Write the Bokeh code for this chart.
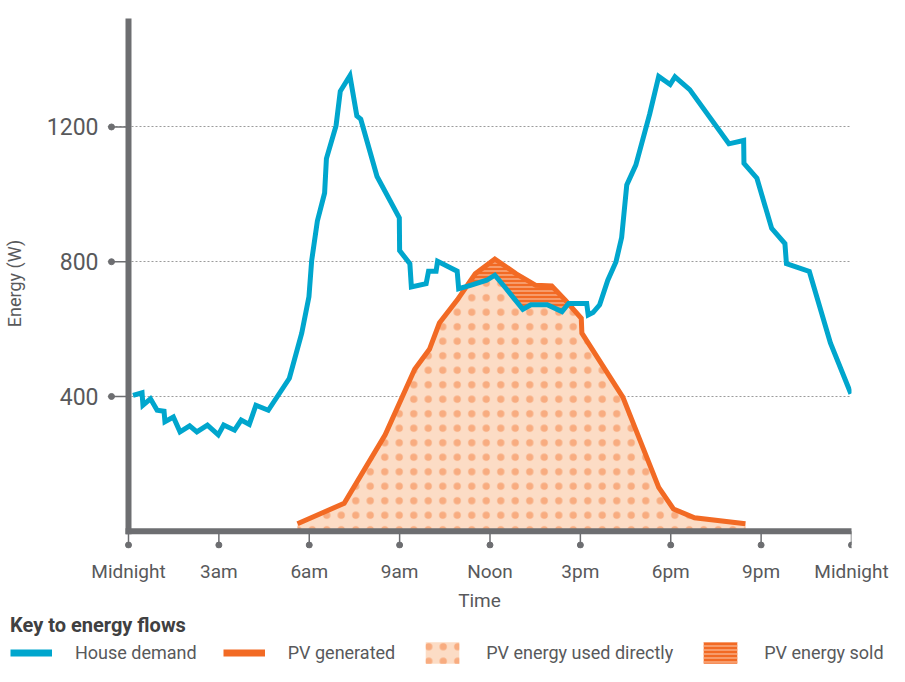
import numpy as np
from bokeh.plotting import figure
from bokeh.models import Range1d, FixedTicker, Legend, LegendItem
from bokeh.embed import file_html
from bokeh.resources import INLINE

# ---------------- data ----------------
demand_hours = [0.15, 0.45, 0.48, 0.73, 0.95, 1.18, 1.21, 1.49, 1.71, 2.03, 2.27, 2.62, 2.98,
                3.16, 3.52, 3.74, 4.01, 4.23, 4.64, 5.34, 5.75, 5.99, 6.08, 6.27, 6.51, 6.57,
                6.89, 7.03, 7.35, 7.58, 7.71, 8.25, 8.99, 9.00, 9.34, 9.39, 9.88, 9.96, 10.21,
                10.26, 10.91, 10.96, 11.35, 11.89, 12.16, 12.49, 13.09, 13.36, 13.90, 14.39,
                14.61, 15.21, 15.26, 15.42, 15.64, 15.91, 16.18, 16.37, 16.54, 16.84, 17.30,
                17.60, 17.98, 18.14, 18.63, 19.93, 20.42, 20.43, 20.86, 21.35, 21.79, 21.84,
                22.60, 23.30, 23.98]
demand_watts = [403, 411, 374, 393, 359, 356, 325, 339, 295, 313, 295, 315, 286,
                315, 300, 330, 317, 374, 359, 454, 588, 696, 803, 921, 1004, 1106,
                1204, 1306, 1352, 1233, 1223, 1053, 930, 833, 794, 725, 735, 772, 772,
                801, 772, 720, 730, 745, 760, 725, 659, 672, 672, 652,
                676, 676, 642, 649, 672, 745, 799, 872, 1028, 1087, 1238,
                1350, 1326, 1349, 1311, 1150, 1160, 1092, 1048, 899, 854, 794,
                771, 559, 408]

pv_hours = [5.61, 7.16, 8.52, 9.50, 9.99, 10.32, 10.91, 11.51, 12.16, 12.87, 13.52, 14.05,
            14.50, 15.03, 15.05, 16.41, 17.60, 18.09, 18.79, 20.48]
pv_watts = [22, 83, 286, 481, 540, 618, 686, 764, 808, 764, 730, 728,
            686, 632, 588, 398, 130, 66, 40, 22]

x_ticks = [0, 3, 6, 9, 12, 15, 18, 21, 24]
x_tick_labels = ["Midnight", "3am", "6am", "9am", "Noon", "3pm", "6pm", "9pm", "Midnight"]
y_ticks = [400, 800, 1200]
legend_labels = ["House demand", "PV generated", "PV energy used directly", "PV energy sold"]

# ---------------- style ----------------
FONT = "Roboto"
TEXT = "#58595b"
AXIS = "#6d6e71"
BLUE = "#00a6cd"
ORANGE = "#f26a24"
PEACH = "#fcdcc5"
DOT = "#f8ac80"
STRIPE = "#f9a77c"

W = 889
H_MAIN, H_KEY = 614, 52
BORDER_L, BORDER_R, BORDER_T, BORDER_B = 107, 38, 18, 59
X0, X1 = -0.697, 24.0
Y0, Y1 = -51.3, 1522
px_per_hour = (W - BORDER_L - BORDER_R) / (X1 - X0)
px_per_watt = (H_MAIN - BORDER_T - BORDER_B) / (Y1 - Y0)

p = figure(width=W, height=H_MAIN, x_range=Range1d(X0, X1), y_range=Range1d(Y0, Y1),
           output_backend="svg", toolbar_location=None, title=None,
           min_border_left=BORDER_L, min_border_right=BORDER_R,
           min_border_top=BORDER_T, min_border_bottom=BORDER_B)
p.outline_line_color = None
p.background_fill_color = "white"
p.border_fill_color = "white"

# ---------------- areas ----------------
dh = np.array(demand_hours, dtype=float)
dw = np.array(demand_watts, dtype=float)
ph = np.array(pv_hours, dtype=float)
pw = np.array(pv_watts, dtype=float)

grid_x = np.unique(np.concatenate([ph, dh[(dh >= ph[0]) & (dh <= ph[-1])]]))
pv_i = np.interp(grid_x, ph, pw)
d_i = np.interp(grid_x, dh, dw)
xs, pvs, ds = [grid_x[0]], [pv_i[0]], [d_i[0]]
for k in range(1, len(grid_x)):
    a0 = pv_i[k - 1] - d_i[k - 1]
    a1 = pv_i[k] - d_i[k]
    if a0 * a1 < 0:
        t = a0 / (a0 - a1)
        xc = grid_x[k - 1] + t * (grid_x[k] - grid_x[k - 1])
        yc = pv_i[k - 1] + t * (pv_i[k] - pv_i[k - 1])
        xs.append(xc); pvs.append(yc); ds.append(yc)
    xs.append(grid_x[k]); pvs.append(pv_i[k]); ds.append(d_i[k])
xs = np.array(xs); pvs = np.array(pvs); ds = np.array(ds)
lower = np.minimum(pvs, ds)

USED_STYLE = dict(fill_color=PEACH, hatch_pattern="dot", hatch_color=DOT,
                  hatch_scale=14.5, hatch_weight=1.6)
SOLD_STYLE = dict(fill_color=ORANGE, hatch_pattern="horizontal_line", hatch_color=STRIPE,
                  hatch_scale=4, hatch_weight=1.6)

p.varea(x=ph, y1=0, y2=pw, **USED_STYLE)
p.varea(x=xs, y1=lower, y2=pvs, **SOLD_STYLE)

# ---------------- axis decorations ----------------
p.segment(x0=[0, 0], y0=[0, 0], x1=[0, X1], y1=[Y1, 0], line_color=AXIS,
          line_width=6, line_cap="square")
stub_h = 17 / px_per_hour
p.segment(x0=[-stub_h] * len(y_ticks), y0=y_ticks, x1=[0] * len(y_ticks), y1=y_ticks,
          line_color=AXIS, line_width=1.5)
p.scatter(x=[-stub_h] * len(y_ticks), y=y_ticks, size=6, color=AXIS)
stub_v = 14 / px_per_watt
p.segment(x0=x_ticks, y0=[0] * len(x_ticks), x1=x_ticks, y1=[-stub_v] * len(x_ticks),
          line_color=AXIS, line_width=1.5)
p.scatter(x=x_ticks, y=[-stub_v] * len(x_ticks), size=6, color=AXIS)

# ---------------- lines ----------------
p.line(ph, pw, line_color=ORANGE, line_width=5, line_join="miter")
p.line(dh, dw, line_color=BLUE, line_width=5, line_join="miter")

# ---------------- axes ----------------
p.xgrid.visible = False
p.ygrid.ticker = FixedTicker(ticks=y_ticks)
p.ygrid.grid_line_color = "#9b9b9b"
p.ygrid.grid_line_dash = "2 2"
p.ygrid.grid_line_width = 1

xa = p.xaxis[0]
xa.ticker = FixedTicker(ticks=x_ticks)
xa.major_label_overrides = {t: l for t, l in zip(x_ticks, x_tick_labels)}
xa.axis_line_color = None
xa.major_tick_line_color = None
xa.minor_tick_line_color = None
xa.major_tick_out = 0
xa.major_tick_in = 0
xa.major_label_standoff = 11
xa.major_label_text_font = FONT
xa.major_label_text_font_size = "19px"
xa.major_label_text_color = TEXT
xa.axis_label = "Time"
xa.axis_label_text_font = FONT
xa.axis_label_text_font_size = "19px"
xa.axis_label_text_font_style = "normal"
xa.axis_label_text_color = TEXT
xa.axis_label_standoff = 3

ya = p.yaxis[0]
ya.ticker = FixedTicker(ticks=y_ticks)
ya.axis_line_color = None
ya.major_tick_line_color = None
ya.minor_tick_line_color = None
ya.major_tick_out = 0
ya.major_tick_in = 0
ya.major_label_standoff = 9
ya.major_label_text_font = FONT
ya.major_label_text_font_size = "23px"
ya.major_label_text_color = TEXT
ya.axis_label = "Energy (W)"
ya.axis_label_text_font = FONT
ya.axis_label_text_font_size = "18px"
ya.axis_label_text_font_style = "normal"
ya.axis_label_text_color = TEXT
ya.axis_label_standoff = 19

# ---------------- key (legend) in its own small figure ----------------
kf = figure(width=W, height=H_KEY, x_range=Range1d(0, 1), y_range=Range1d(0, 1),
            output_backend="svg", toolbar_location=None, title=None,
            x_axis_type=None, y_axis_type=None, min_border=0,
            min_border_left=0, min_border_right=0, min_border_top=0, min_border_bottom=0)
kf.outline_line_color = None
kf.xgrid.visible = False
kf.ygrid.visible = False
nan = [float("nan")]
k_demand = kf.line(nan, nan, line_color=BLUE, line_width=7)
k_pv = kf.line(nan, nan, line_color=ORANGE, line_width=7)
k_used = kf.varea(x=nan, y1=nan, y2=nan, **USED_STYLE)
k_sold = kf.varea(x=nan, y1=nan, y2=nan, **SOLD_STYLE)

legend = Legend(items=[
    LegendItem(label=legend_labels[0], renderers=[k_demand]),
    LegendItem(label=legend_labels[1], renderers=[k_pv]),
    LegendItem(label=legend_labels[2], renderers=[k_used]),
    LegendItem(label=legend_labels[3], renderers=[k_sold]),
], orientation="horizontal", location=(10, 0),
    title="Key to energy flows", title_text_font=FONT, title_text_font_size="20px",
    title_text_font_style="bold", title_text_color="#404041", title_standoff=2,
    label_text_font=FONT, label_text_font_size="18px", label_text_color=TEXT,
    glyph_width=42, glyph_height=27, label_standoff=23, spacing=26,
    padding=0, margin=0, border_line_alpha=0, background_fill_alpha=0)
kf.add_layout(legend)

open("out.html", "w").write(file_html([p, kf], INLINE))
